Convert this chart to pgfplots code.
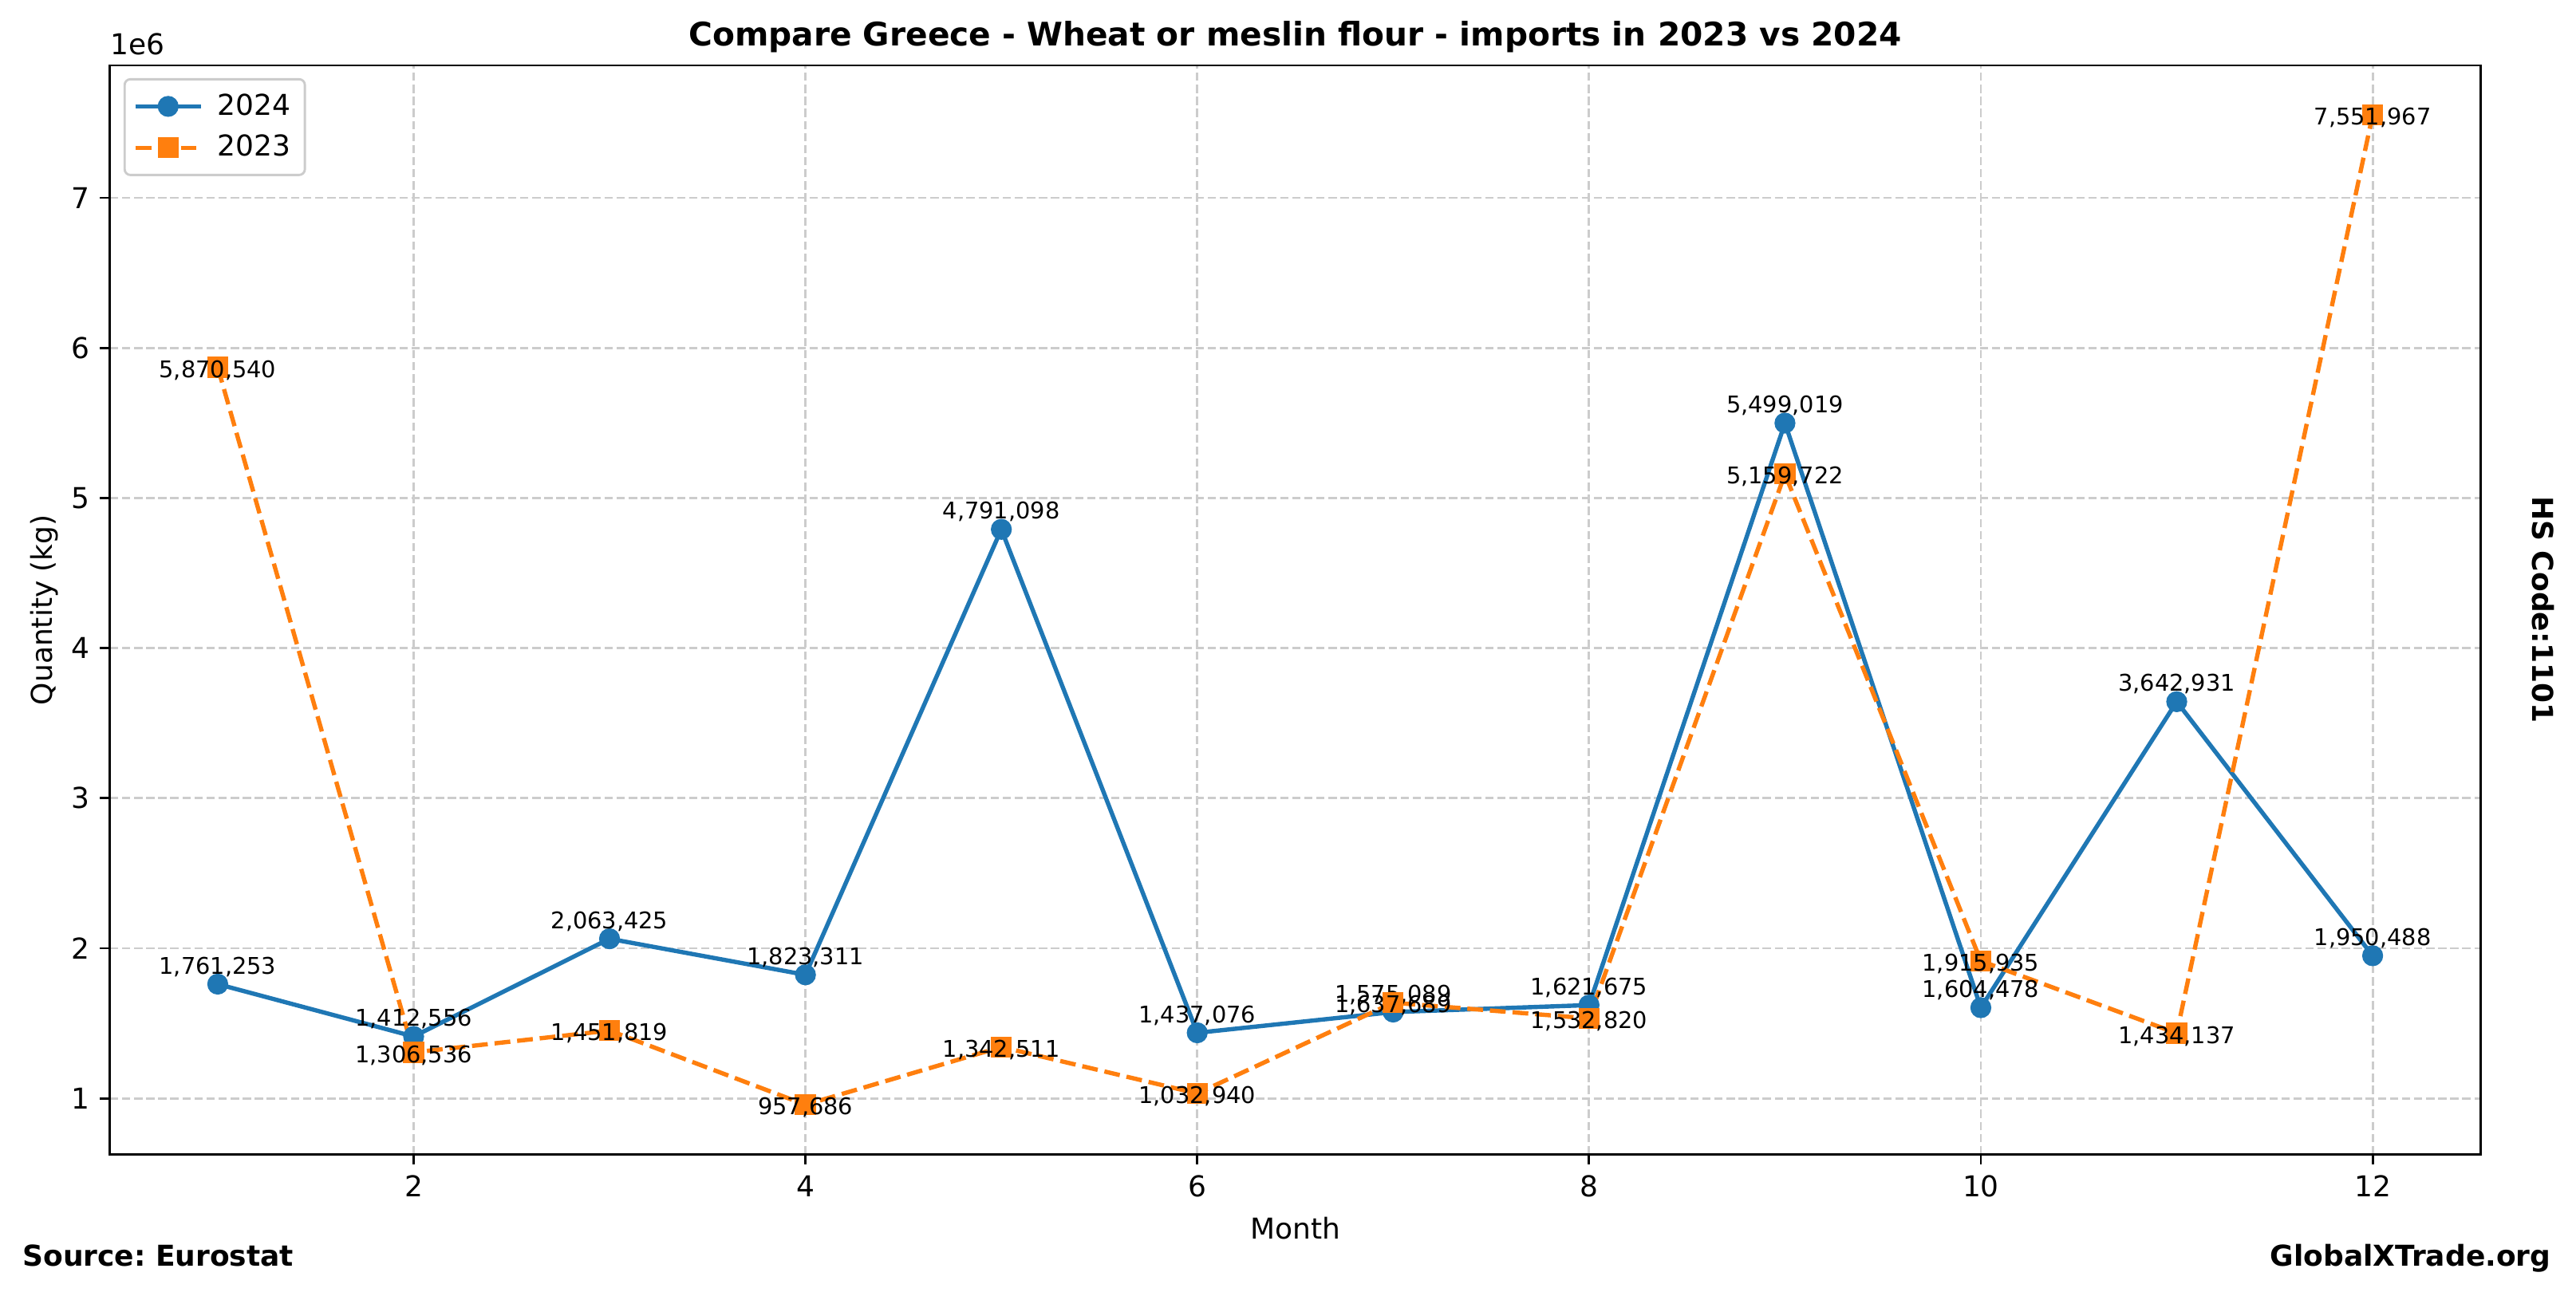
\documentclass[border=0pt]{standalone}
\usepackage{fontspec}
\setmainfont{DejaVu Sans}
\usepackage{pgfplots}
\usepackage{pgfplotstable}
\pgfplotsset{compat=1.18}
\frenchspacing

\definecolor{mplblue}{HTML}{1F77B4}
\definecolor{mplorange}{HTML}{FF7F0E}
\definecolor{gridgray}{HTML}{CCCCCC}

% monthly imports, kg
\pgfplotstableread{
m v lab
1 1761253 1,761,253
2 1412556 1,412,556
3 2063425 2,063,425
4 1823311 1,823,311
5 4791098 4,791,098
6 1437076 1,437,076
7 1575089 1,575,089
8 1621675 1,621,675
9 5499019 5,499,019
10 1604478 1,604,478
11 3642931 3,642,931
12 1950488 1,950,488
}\ytwentyfour

\pgfplotstableread{
m v lab
1 5870540 5,870,540
2 1306536 1,306,536
3 1451819 1,451,819
4 957686 957,686
5 1342511 1,342,511
6 1032940 1,032,940
7 1637689 1,637,689
8 1532820 1,532,820
9 5159722 5,159,722
10 1915935 1,915,935
11 1434137 1,434,137
12 7551967 7,551,967
}\ytwentythree

\newcommand{\annfont}{\fontsize{8}{9.6}\selectfont}
\newcommand{\lblfont}{\fontsize{10}{12}\selectfont}

\begin{document}
\begin{tikzpicture}
\begin{axis}[
    name=ax, at={(0,0)}, anchor=south west,
    scale only axis,
    width=825.3pt, height=379.2pt,
    xmin=0.45, xmax=12.55,
    ymin=627972, ymax=7881681,
    clip=false,
    axis line style={line width=0.8pt},
    xtick={2,4,6,8,10,12},
    ytick={1000000,2000000,3000000,4000000,5000000,6000000,7000000},
    yticklabels={1,2,3,4,5,6,7},
    scaled y ticks=false,
    tick align=outside,
    major tick length=3.5pt,
    tick style={black, line width=0.8pt},
    xtick pos=bottom, ytick pos=left,
    /pgf/number format/assume math mode=true,
    tick label style={font=\lblfont, inner sep=0pt},
    xticklabel style={anchor=north, yshift=-3.7pt},
    yticklabel style={anchor=east, xshift=-3.4pt},
    grid=major,
    major grid style={gridgray, line width=0.8pt, dash pattern=on 2.9pt off 1.3pt},
    xlabel={Month},
    xlabel style={font=\lblfont, at={(axis description cs:0.5,-0.068)}, anchor=center},
    ylabel={Quantity (kg)},
    ylabel style={font=\lblfont, at={(axis description cs:-0.0276,0.5)}, anchor=center},
    title={\bfseries Compare Greece - Wheat or meslin flour - imports in 2023 vs 2024},
    title style={font=\fontsize{11.3}{13.5}\selectfont, at={(axis description cs:0.5,1)}, anchor=base, yshift=0.9pt, inner sep=0pt},
    legend cell align=left,
    legend image code/.code={
        \draw[mark repeat=2,mark phase=2,#1] plot coordinates {(0pt,0pt) (11.4pt,0pt) (22.8pt,0pt)};
    },
    legend style={
        at={(axis description cs:0,1)}, anchor=north west,
        xshift=4.7pt, yshift=-4.4pt,
        draw=gridgray, line width=0.8pt, rounded corners=2pt,
        fill=white, font=\lblfont,
        inner xsep=3pt, inner ysep=3pt, row sep=1.5pt,
        nodes={inner sep=2pt},
        /tikz/every odd column/.append style={column sep=3pt},
    },
    point meta=explicit symbolic,
    nodes near coords,
]
\addplot[mplblue, line width=1.5pt, mark=*, mark size=3.5pt,
    mark options={solid, fill=mplblue, draw=mplblue, line width=0.3pt},
    every node near coord/.style={font=\annfont, text=black, anchor=south, inner sep=0pt, yshift=2.5pt}]
    table[x=m, y=v, meta=lab] {\ytwentyfour};
\addlegendentry{2024}
\addplot[mplorange, line width=1.5pt, dash pattern=on 5.5pt off 2.4pt,
    mark=square*, mark size=3.5pt,
    mark options={solid, fill=mplorange, draw=mplorange, line width=0.3pt},
    every node near coord/.style={font=\annfont, text=black, anchor=center, inner sep=0pt, yshift=-1pt}]
    table[x=m, y=v, meta=lab] {\ytwentythree};
\addlegendentry{2023}
\end{axis}

\node[font=\lblfont, anchor=base west, inner sep=0pt] at ([yshift=3.9pt]ax.north west) {1e6};
\node[font=\lblfont\bfseries, anchor=base west, inner sep=0pt] at ([shift={(-30.6pt,-38.9pt)}]ax.south west) {Source: Eurostat};
\node[font=\lblfont\bfseries, anchor=base east, inner sep=0pt] at ([shift={(24.7pt,-38.9pt)}]ax.south east) {GlobalXTrade.org};
\node[font=\lblfont\bfseries, rotate=-90, anchor=center, inner sep=0pt] at ([xshift=21.9pt]ax.east) {HS Code:1101};

\pgfresetboundingbox
\path[use as bounding box] ([shift={(-38.3pt,-49.2pt)}]ax.south west) rectangle ([shift={(33.3pt,22.8pt)}]ax.north east);
\end{tikzpicture}
\end{document}
